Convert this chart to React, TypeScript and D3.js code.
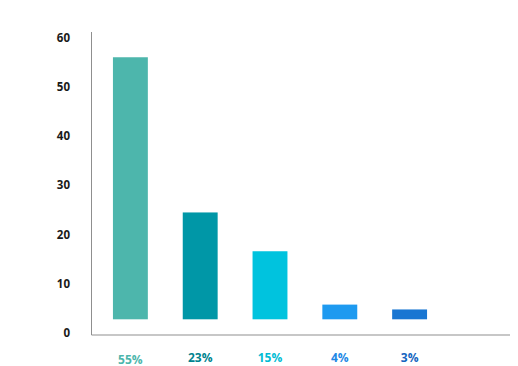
import React from "react";
import * as d3 from "d3";

// Share of responses per group
const categories = ["A", "B", "C", "D", "E"];
const values = [55, 23, 15, 4, 3];
const valueLabels = ["55%", "23%", "15%", "4%", "3%"];
const yTicks = [0, 10, 20, 30, 40, 50, 60];

const barColors = ["#4DB6AC", "#0097A7", "#00C3DE", "#1E9AF0", "#1976D2"];
const labelColors = ["#4DB6AC", "#00838F", "#00BCD4", "#1E88E5", "#1565C0"];

const W = 518;
const H = 366;
const axisX = 91.5;
const axisTop = 32;
const baseY = 335;
const axisRight = 510;
const barFloor = 319.3;

export default function App() {
  const x = d3
    .scaleBand<string>()
    .domain(categories)
    .range([92, 448])
    .paddingInner(0.5)
    .paddingOuter(0.3);

  // bar heights
  const yBar = d3.scaleLinear().domain([0, 60]).range([324, 33]);
  // tick label placement
  const yTick = d3.scaleLinear().domain([0, 60]).range([332.7, 37.7]);

  const font = "'Open Sans', 'Noto Sans', sans-serif";

  return (
    <svg
      width={W}
      height={H}
      style={{ position: "absolute", left: 0, top: 0, background: "#fff" }}
    >
      <rect width={W} height={H} fill="#fff" />
      {values.map((v, i) => (
        <rect
          key={categories[i]}
          x={x(categories[i])!}
          y={yBar(v)}
          width={x.bandwidth()}
          height={barFloor - yBar(v)}
          fill={barColors[i]}
        />
      ))}
      <line x1={axisX} x2={axisX} y1={axisTop} y2={baseY} stroke="#8f8f8f" strokeWidth={1} />
      <line x1={axisX} x2={axisRight} y1={baseY} y2={baseY} stroke="#8f8f8f" strokeWidth={1} />
      {yTicks.map((t) => (
        <text
          key={t}
          x={70}
          y={yTick(t)}
          dy="0.36em"
          textAnchor="end"
          fontFamily={font}
          fontWeight={700}
          fontSize={11.5}
          fill="#1a1a1a"
        >
          {t}
        </text>
      ))}
      {valueLabels.map((l, i) => (
        <text
          key={l}
          x={x(categories[i])! + x.bandwidth() / 2}
          y={i === 0 ? 363.5 : 361.5}
          textAnchor="middle"
          fontFamily={font}
          fontWeight={700}
          fontSize={12}
          fill={labelColors[i]}
        >
          {l}
        </text>
      ))}
    </svg>
  );
}
